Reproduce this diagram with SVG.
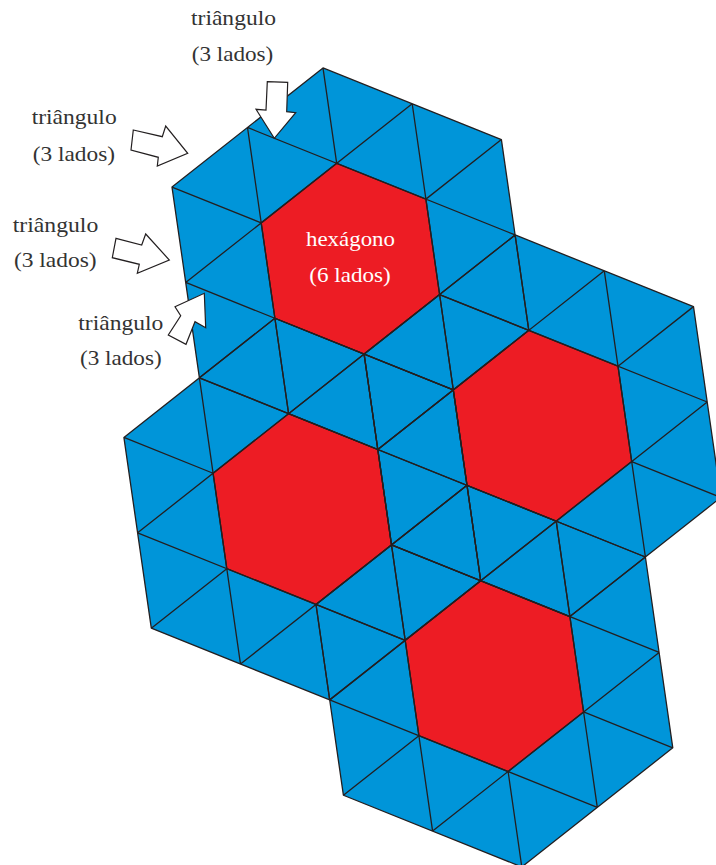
<svg xmlns="http://www.w3.org/2000/svg" width="716" height="865" viewBox="0 0 716 865">
<style>
.t{fill:#0095d9}
.h{fill:#ed1c24;stroke:#231f20;stroke-width:1.3;vector-effect:non-scaling-stroke;stroke-linejoin:round}
.e{fill:none;stroke:#231f20;stroke-width:1.3;vector-effect:non-scaling-stroke;stroke-linejoin:round}
.lbl{font-size:22px;fill:#333333;text-anchor:middle}
.hl{font-size:22px;fill:#ffffff;text-anchor:middle}
.arr{fill:#ffffff;stroke:#231f20;stroke-width:1.2;stroke-linejoin:miter}
</style>
<rect width="716" height="865" fill="#ffffff"/>
<g id="tiling" transform="matrix(89.2 35.83 13.7 95.4 350.4 258.7)">
  <g id="clusters">
    <polygon id="cluster1" class="t" points="2,0 0,2 -2,2 -2,0 0,-2 2,-2"/>
    <polygon id="cluster2" class="t" points="4,1 2,3 0,3 0,1 2,-1 4,-1"/>
    <polygon id="cluster3" class="t" points="1,3 -1,5 -3,5 -3,3 -1,1 1,1"/>
    <polygon id="cluster4" class="t" points="3,4 1,6 -1,6 -1,4 1,2 3,2"/>
  </g>
  <g id="hexagon1"><polygon class="h" points="1,0 0,1 -1,1 -1,0 0,-1 1,-1"/></g>
  <g id="hexagon2"><polygon class="h" points="3,1 2,2 1,2 1,1 2,0 3,0"/></g>
  <g id="hexagon3"><polygon class="h" points="0,3 -1,4 -2,4 -2,3 -1,2 0,2"/></g>
  <g id="hexagon4"><polygon class="h" points="2,4 1,5 0,5 0,4 1,3 2,3"/></g>
  <g id="edges">
    <path class="e" d="M-1 -1L2 -1M-2 0L-1 0M1 0L2 0M-2 1L1 1M-1 -1L-1 2M0 -2L0 -1M0 1L0 2M1 -2L1 1M-2 1L1 -2M-2 2L-1 1M1 -1L2 -2M-1 2L2 -1M2 0L0 2L-2 2L-2 0L0 -2L2 -2Z"/>
    <path class="e" d="M1 0L4 0M0 1L1 1M3 1L4 1M0 2L3 2M1 0L1 3M2 -1L2 0M2 2L2 3M3 -1L3 2M0 2L3 -1M0 3L1 2M3 0L4 -1M1 3L4 0M4 1L2 3L0 3L0 1L2 -1L4 -1Z"/>
    <path class="e" d="M-2 2L1 2M-3 3L-2 3M0 3L1 3M-3 4L0 4M-2 2L-2 5M-1 1L-1 2M-1 4L-1 5M0 1L0 4M-3 4L0 1M-3 5L-2 4M0 2L1 1M-2 5L1 2M1 3L-1 5L-3 5L-3 3L-1 1L1 1Z"/>
    <path class="e" d="M0 3L3 3M-1 4L0 4M2 4L3 4M-1 5L2 5M0 3L0 6M1 2L1 3M1 5L1 6M2 2L2 5M-1 5L2 2M-1 6L0 5M2 3L3 2M0 6L3 3M3 4L1 6L-1 6L-1 4L1 2L3 2Z"/>
  </g>
</g>
<g id="hexagon-label" font-family="'Liberation Serif', 'Times New Roman', serif">
  <text class="hl" x="350.5" y="246" textLength="89" lengthAdjust="spacingAndGlyphs">hexágono</text>
  <text class="hl" x="350" y="281.5" textLength="81.4" lengthAdjust="spacingAndGlyphs">(6 lados)</text>
</g>
<g id="label1" font-family="'Liberation Serif', 'Times New Roman', serif">
  <text class="lbl" x="233.5" y="25" textLength="85" lengthAdjust="spacingAndGlyphs">triângulo</text>
  <text class="lbl" x="232.5" y="60.5" textLength="81.6" lengthAdjust="spacingAndGlyphs">(3 lados)</text>
</g>
<g id="label2" font-family="'Liberation Serif', 'Times New Roman', serif">
  <text class="lbl" x="74.2" y="124" textLength="85" lengthAdjust="spacingAndGlyphs">triângulo</text>
  <text class="lbl" x="73.9" y="160.5" textLength="82.3" lengthAdjust="spacingAndGlyphs">(3 lados)</text>
</g>
<g id="label3" font-family="'Liberation Serif', 'Times New Roman', serif">
  <text class="lbl" x="55.5" y="231.5" textLength="85.6" lengthAdjust="spacingAndGlyphs">triângulo</text>
  <text class="lbl" x="55.3" y="266.5" textLength="82.7" lengthAdjust="spacingAndGlyphs">(3 lados)</text>
</g>
<g id="label4" font-family="'Liberation Serif', 'Times New Roman', serif">
  <text class="lbl" x="120.8" y="330" textLength="85" lengthAdjust="spacingAndGlyphs">triângulo</text>
  <text class="lbl" x="120.8" y="365" textLength="81.7" lengthAdjust="spacingAndGlyphs">(3 lados)</text>
</g>
<g id="arrows">
  <polygon id="arrow1" class="arr" points="267.3,81.7 287.7,82.3 286.7,111.7 295.7,112.7 274.3,138.3 256,109.3 266,110"/>
  <polygon id="arrow2" class="arr" points="133.3,130 162.3,136.7 165.7,126 187.7,153.3 157.3,166 158.3,157.3 131,150"/>
  <polygon id="arrow3" class="arr" points="116,238.3 141.7,245 145.7,234 169.3,260 137.3,273.3 139.3,264.3 112.3,257.7"/>
  <polygon id="arrow4" class="arr" points="204.3,293.3 205.7,327.7 195,321.7 186,344.3 168.3,335 180.7,315.7 175,306.7"/>
</g>
</svg>
